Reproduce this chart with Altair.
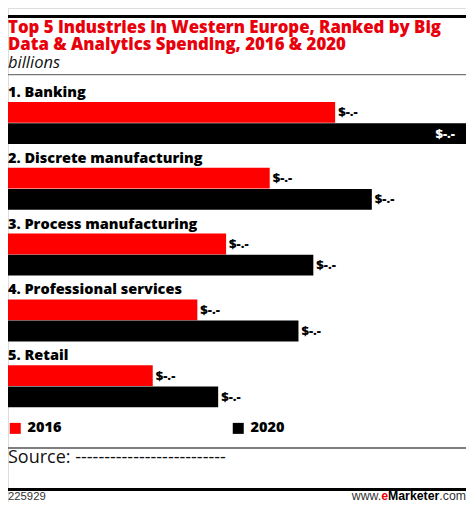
import altair as alt
import pandas as pd

# ---- data (values hidden as "$-.-") ----
industries = ["1. Banking", "2. Discrete manufacturing", "3. Process manufacturing",
              "4. Professional services", "5. Retail"]
years = ["2016", "2020"]
spend_2016 = [3.30, 2.64, 2.20, 1.91, 1.46]
spend_2020 = [4.62, 3.67, 3.08, 2.93, 2.12]
value_label = "$-.-"

title_lines = ["Top 5 Industries in Western Europe, Ranked by Big",
               "Data & Analytics Spending, 2016 & 2020"]
subtitle = "billions"
source_text = "Source: --------------------------"
chart_id = "225929"

RED = "#ff0000"
TITLE_RED = "#e8000b"
FONT = "Open Sans"
FOOT = "Liberation Sans"
W, H = 458, 494

rows = []
for ind, v16, v20 in zip(industries, spend_2016, spend_2020):
    rows.append({"industry": ind, "year": "2016", "value": v16})
    rows.append({"industry": ind, "year": "2020", "value": v20})
df = pd.DataFrame(rows)
df["label"] = value_label
vmax = max(spend_2020 + spend_2016)
df["inside"] = df["value"] >= vmax * 0.97

cat_df = pd.DataFrame({"industry": industries})
one = pd.DataFrame({"a": [0]})

x_scale = alt.Scale(domain=[0, vmax], range=[0, W], nice=False, zero=True)
y_scale = alt.Scale(domain=industries, range=[94, 399.2], paddingInner=0.362, paddingOuter=0)
yoff_scale = alt.Scale(domain=years, paddingInner=0.02)

bars = alt.Chart(df).mark_bar().encode(
    x=alt.X("value:Q", scale=x_scale, axis=None),
    y=alt.Y("industry:N", scale=y_scale, axis=None, sort=industries),
    yOffset=alt.YOffset("year:N", scale=yoff_scale, sort=years),
    color=alt.Color("year:N", scale=alt.Scale(domain=years, range=[RED, "#000000"]),
                    legend=alt.Legend(title=None, orient="none", legendX=0, legendY=413,
                                      direction="horizontal", columns=2, columnPadding=169,
                                      symbolType="square", symbolSize=121, symbolStrokeWidth=0,
                                      labelFont=FONT, labelFontSize=14.5, labelFontWeight=800,
                                      labelColor="#000", labelOffset=5, padding=0)),
)

labels_out = alt.Chart(df).transform_filter("!datum.inside").mark_text(
    align="left", baseline="middle", dx=3, font=FONT, fontSize=13, fontWeight=800, color="#000"
).encode(
    x=alt.X("value:Q", scale=x_scale),
    y=alt.Y("industry:N", scale=y_scale, sort=industries),
    yOffset=alt.YOffset("year:N", scale=yoff_scale, sort=years),
    text="label:N",
)

labels_in = alt.Chart(df).transform_filter("datum.inside").mark_text(
    align="right", baseline="middle", dx=-11, font=FONT, fontSize=13, fontWeight=800, color="#fff"
).encode(
    x=alt.X("value:Q", scale=x_scale),
    y=alt.Y("industry:N", scale=y_scale, sort=industries),
    yOffset=alt.YOffset("year:N", scale=yoff_scale, sort=years),
    text="label:N",
)

cat_labels = alt.Chart(cat_df).mark_text(
    align="left", baseline="alphabetic", dy=-26, font=FONT, fontSize=14.5, fontWeight=800, color="#000"
).encode(
    x=alt.value(0),
    y=alt.Y("industry:N", scale=y_scale, sort=industries),
    text="industry:N",
)

def line(y0, y1, color):
    return alt.Chart(one).mark_rect(color=color).encode(
        x=alt.value(0), x2=alt.value(W), y=alt.value(y0), y2=alt.value(y1))

def txt(text, x, y, size, weight="normal", color="#000", align="left", style="normal", font=FONT):
    return alt.Chart(one).mark_text(
        text=text, align=align, baseline="alphabetic", font=font, fontSize=size,
        fontWeight=weight, color=color, fontStyle=style
    ).encode(x=alt.value(x), y=alt.value(y))

decor = [
    line(7, 10, "#000"),
    txt(title_lines[0], 0, 25, 16.8, 800, TITLE_RED),
    txt(title_lines[1], 0, 41.5, 16.8, 800, TITLE_RED),
    txt(subtitle, 0, 59.5, 16.5, "normal", "#111", style="italic"),
    line(66, 67.2, "#777"),
    line(439.3, 440.7, "#555"),
    txt(source_text, 0, 455, 18, "normal", "#111"),
    line(480, 483, "#000"),
    txt(chart_id, 0, 492, 11.3, "normal", "#333", font=FOOT),
    txt(".com", W, 492, 12.3, "normal", "#333", align="right", font=FOOT),
    txt("Marketer", 431.3, 492, 12.3, "bold", "#000", align="right", font=FOOT),
    txt("e", 380, 492, 12.3, "bold", TITLE_RED, align="right", font=FOOT),
    txt("www.", 373.2, 492, 12.3, "normal", "#333", align="right", font=FOOT),
]

chart = alt.layer(bars, labels_out, labels_in, cat_labels, *decor).properties(
    width=W, height=H, autosize=alt.AutoSizeParams(type="none"), padding=0
).configure_view(stroke=None).configure(background="#ffffff")

chart.save("out.html", embed_options={"renderer": "svg", "actions": False})
